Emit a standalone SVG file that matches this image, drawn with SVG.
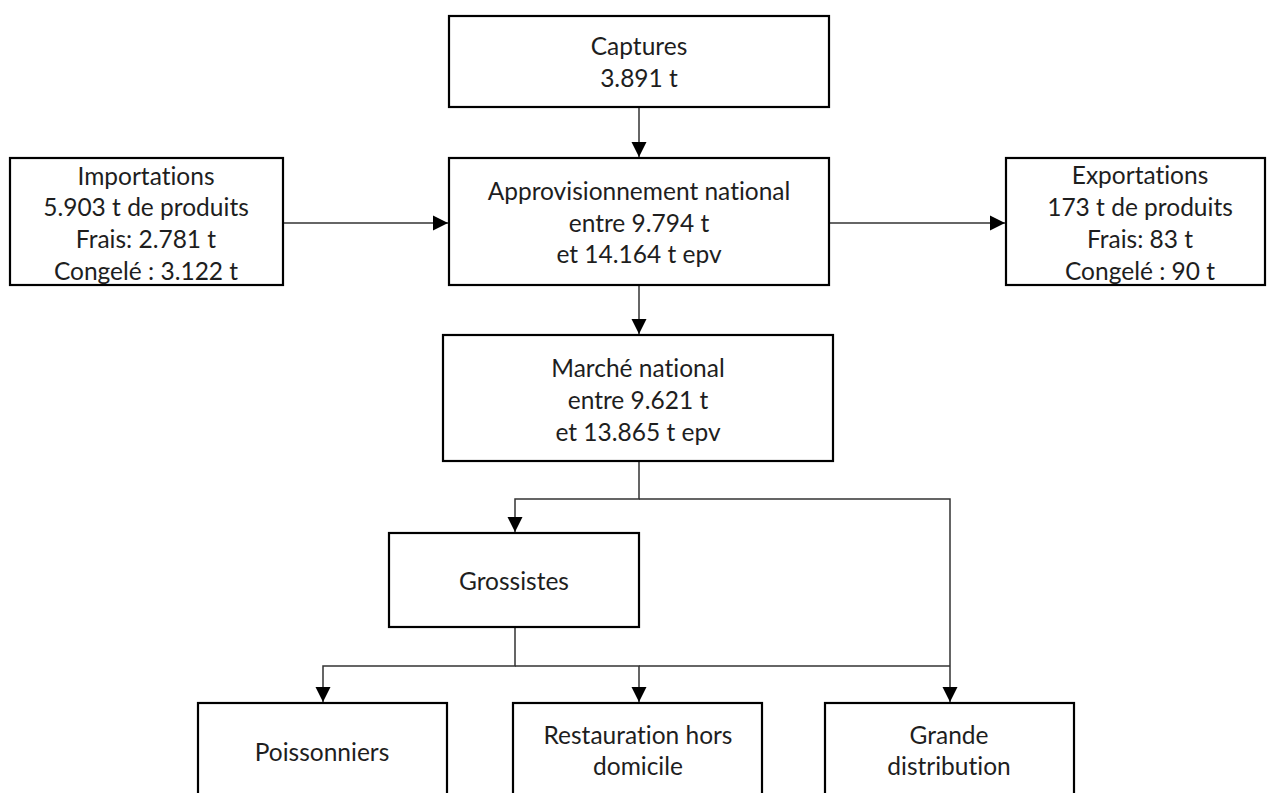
<svg xmlns="http://www.w3.org/2000/svg" width="1268" height="793" viewBox="0 0 1268 793">
  <style>
    .box { fill: #ffffff; stroke: #000000; stroke-width: 2.2; }
    .lbl { font-family: "Lato", "Liberation Sans", sans-serif; font-size: 24.5px; fill: #1e1e1e; text-anchor: middle; font-variant-ligatures: none; font-feature-settings: "liga" 0, "clig" 0; }
    .conn { fill: none; stroke: #333333; stroke-width: 1.5; }
  </style>
  <defs>
    <marker id="arr" markerUnits="userSpaceOnUse" markerWidth="16" markerHeight="16" viewBox="0 0 16 16" refX="15" refY="8" orient="auto">
      <path d="M0,0.5 L15,8 L0,15.5 Z" fill="#000000"/>
    </marker>
  </defs>
  <rect width="1268" height="793" fill="#ffffff"/>

  <g id="connectors">
    <line class="conn" x1="639" y1="107" x2="639" y2="157" marker-end="url(#arr)"/>
    <line class="conn" x1="283" y1="223" x2="448" y2="223" marker-end="url(#arr)"/>
    <line class="conn" x1="829" y1="223" x2="1005" y2="223" marker-end="url(#arr)"/>
    <line class="conn" x1="639" y1="285" x2="639" y2="334" marker-end="url(#arr)"/>
    <polyline class="conn" points="639,461 639,499 515,499 515,532" marker-end="url(#arr)"/>
    <polyline class="conn" points="639,499 950,499 950,702" marker-end="url(#arr)"/>
    <polyline class="conn" points="515,627 515,666 323,666 323,702" marker-end="url(#arr)"/>
    <polyline class="conn" points="515,666 639,666 639,702" marker-end="url(#arr)"/>
    <line class="conn" x1="639" y1="666" x2="950" y2="666"/>
  </g>

  <g id="captures">
    <rect class="box" x="449" y="16" width="380" height="91"/>
    <text class="lbl" x="639" y="55">Captures</text>
    <text class="lbl" x="639" y="87">3.891 t</text>
  </g>

  <g id="importations">
    <rect class="box" x="10" y="158" width="273" height="127"/>
    <text class="lbl" x="146" y="185">Importations</text>
    <text class="lbl" x="146" y="216">5.903 t de produits</text>
    <text class="lbl" x="146" y="248">Frais: 2.781 t</text>
    <text class="lbl" x="146" y="280">Congelé : 3.122 t</text>
  </g>

  <g id="approvisionnement">
    <rect class="box" x="449" y="158" width="380" height="127"/>
    <text class="lbl" x="639" y="200">Approvisionnement national</text>
    <text class="lbl" x="639" y="232">entre 9.794 t</text>
    <text class="lbl" x="639" y="263">et 14.164 t epv</text>
  </g>

  <g id="exportations">
    <rect class="box" x="1006" y="158" width="259" height="127"/>
    <text class="lbl" x="1140" y="184">Exportations</text>
    <text class="lbl" x="1140" y="216">173 t de produits</text>
    <text class="lbl" x="1140" y="248">Frais: 83 t</text>
    <text class="lbl" x="1140" y="280">Congelé : 90 t</text>
  </g>

  <g id="marche">
    <rect class="box" x="443" y="335" width="390" height="126"/>
    <text class="lbl" x="638" y="377">Marché national</text>
    <text class="lbl" x="638" y="409">entre 9.621 t</text>
    <text class="lbl" x="638" y="441">et 13.865 t epv</text>
  </g>

  <g id="grossistes">
    <rect class="box" x="389" y="533" width="250" height="94"/>
    <text class="lbl" x="514" y="590">Grossistes</text>
  </g>

  <g id="poissonniers">
    <rect class="box" x="198" y="703" width="249" height="110"/>
    <text class="lbl" x="322" y="761">Poissonniers</text>
  </g>

  <g id="restauration">
    <rect class="box" x="513" y="703" width="249" height="110"/>
    <text class="lbl" x="638" y="744">Restauration hors</text>
    <text class="lbl" x="638" y="775">domicile</text>
  </g>

  <g id="grande-distribution">
    <rect class="box" x="825" y="703" width="249" height="110"/>
    <text class="lbl" x="949" y="744">Grande</text>
    <text class="lbl" x="949" y="775">distribution</text>
  </g>
</svg>
